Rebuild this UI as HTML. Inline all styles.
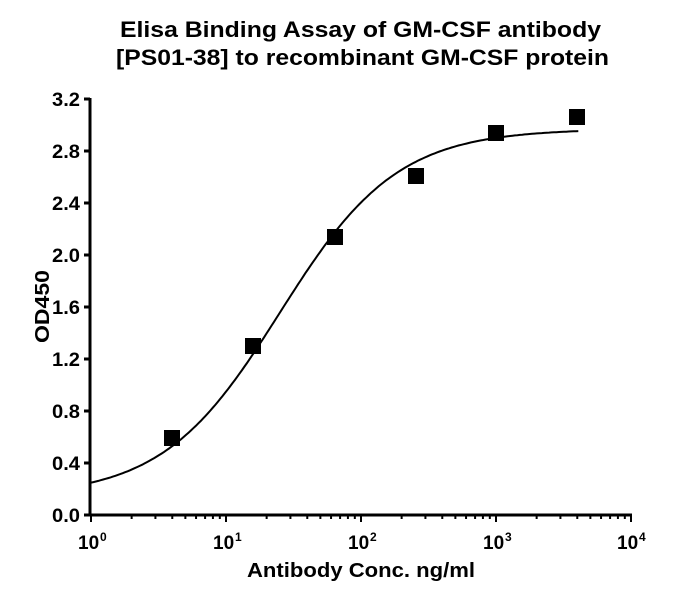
<!DOCTYPE html>
<html><head><style>body{margin:0;background:#fff}svg{display:block}text{font-family:"Liberation Sans",Arial,sans-serif;font-weight:bold;fill:#000}</style></head>
<body>
<svg width="697" height="596" xmlns="http://www.w3.org/2000/svg">
<text x="120" y="37" font-size="22" textLength="481" lengthAdjust="spacingAndGlyphs">Elisa Binding Assay of GM-CSF antibody</text>
<text x="116" y="65" font-size="22" textLength="493" lengthAdjust="spacingAndGlyphs">[PS01-38] to recombinant GM-CSF protein</text>
<g stroke="#000" stroke-width="3" fill="none">
<line x1="90" y1="98" x2="90" y2="516"/>
<line x1="89" y1="515" x2="632" y2="515"/>
</g>
<g stroke="#000" stroke-width="3">
<line x1="84" y1="99" x2="90" y2="99"/><line x1="84" y1="151" x2="90" y2="151"/><line x1="84" y1="203" x2="90" y2="203"/><line x1="84" y1="255" x2="90" y2="255"/><line x1="84" y1="307" x2="90" y2="307"/><line x1="84" y1="359" x2="90" y2="359"/><line x1="84" y1="411" x2="90" y2="411"/><line x1="84" y1="463" x2="90" y2="463"/><line x1="84" y1="515" x2="90" y2="515"/>
</g>
<g font-size="19">
<text x="52" y="106" textLength="28" lengthAdjust="spacingAndGlyphs">3.2</text>
<text x="52" y="158" textLength="28" lengthAdjust="spacingAndGlyphs">2.8</text>
<text x="52" y="210" textLength="28" lengthAdjust="spacingAndGlyphs">2.4</text>
<text x="52" y="262" textLength="28" lengthAdjust="spacingAndGlyphs">2.0</text>
<text x="52" y="314" textLength="28" lengthAdjust="spacingAndGlyphs">1.6</text>
<text x="52" y="366" textLength="28" lengthAdjust="spacingAndGlyphs">1.2</text>
<text x="52" y="418" textLength="28" lengthAdjust="spacingAndGlyphs">0.8</text>
<text x="52" y="470" textLength="28" lengthAdjust="spacingAndGlyphs">0.4</text>
<text x="52" y="522" textLength="28" lengthAdjust="spacingAndGlyphs">0.0</text>
</g>
<g id="xt"></g>
<g font-size="19">
<text x="78" y="549">10</text><text x="100" y="541" font-size="12">0</text>
<text x="213" y="549">10</text><text x="235" y="541" font-size="12">1</text>
<text x="348" y="549">10</text><text x="370" y="541" font-size="12">2</text>
<text x="483" y="549">10</text><text x="505" y="541" font-size="12">3</text>
<text x="617" y="549">10</text><text x="639" y="541" font-size="12">4</text>
</g>
<text x="247" y="577" font-size="20" textLength="228" lengthAdjust="spacingAndGlyphs">Antibody Conc. ng/ml</text>
<text transform="translate(49,343) rotate(-90)" font-size="20" textLength="73" lengthAdjust="spacingAndGlyphs">OD450</text>
<path id="curve" fill="none" stroke="#000" stroke-width="2"/>
<g fill="#000">
<rect x="164" y="430" width="16" height="16"/>
<rect x="245" y="338" width="16" height="16"/>
<rect x="327" y="229" width="16" height="16"/>
<rect x="408" y="168" width="16" height="16"/>
<rect x="488" y="125" width="16" height="16"/>
<rect x="569" y="109" width="16" height="16"/>
</g>
</svg>
<script>
var g=document.getElementById('xt'),s='';
for(var d=0;d<4;d++)for(var k=1;k<=10;k++){var x=91+135*(d+Math.log10(k));var L=(k==1||k==10)?7:4;s+='<line x1="'+x+'" y1="515" x2="'+x+'" y2="'+(515+L)+'" stroke="#000" stroke-width="2"/>';}
g.innerHTML=s;
var p='';for(var i=0;i<=200;i++){var lx=i/200*3.61;var x=Math.pow(10,lx);var f=0.14+2.83/(1+25/x);var X=91+135*lx,Y=515-f*130;p+=(i?'L':'M')+X.toFixed(1)+' '+Y.toFixed(1);}
document.getElementById('curve').setAttribute('d',p);
</script>
</body></html>
